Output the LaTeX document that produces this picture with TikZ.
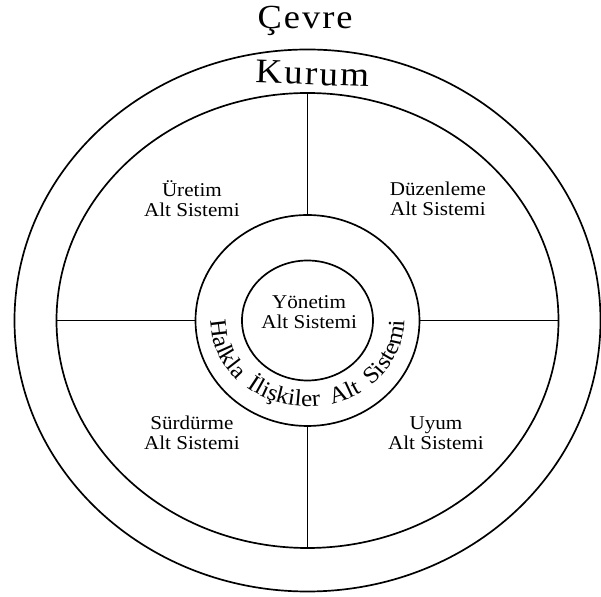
\documentclass[tikz,border=0pt]{standalone}
\usepackage{fontspec}
\setmainfont{Liberation Serif}[FakeStretch=1.08]
\newfontfamily\titlefont{Liberation Serif}[FakeStretch=1.08,LetterSpace=6]
\usetikzlibrary{shapes.geometric,decorations.text}
\newcommand\subfont{\fontsize{13.9}{14.2}\selectfont}
\newcommand\ringfont{\fontsize{16.6}{18}\selectfont}
\tikzset{
	ring/.style={draw, ellipse, line width=1.2pt, inner sep=0pt, outer sep=0pt},
	subsys/.style={align=center, font=\subfont},
	title/.style={anchor=base, font=\titlefont\fontsize{24}{26}\selectfont},
}
\begin{document}
\begin{tikzpicture}
	\useasboundingbox (-7.6875,-6.9125) rectangle (7.3375,8.0125);
	\node[ring, minimum width=14.65cm, minimum height=13.55cm] (cevre) at (0,0) {};
	\node[ring, minimum width=12.55cm, minimum height=11.375cm] (kurum) at (0,0) {};
	\node[ring, minimum width=5.6cm, minimum height=5.275cm] (halkla) at (0,0) {};
	\node[ring, minimum width=3.275cm, minimum height=3cm] (yonetim) at (0,0) {};
	\draw[line width=1.2pt] (kurum.north) -- (halkla.north);
	\draw[line width=1.2pt] (halkla.south) -- (kurum.south);
	\draw[line width=1.2pt] (kurum.west) -- (halkla.west);
	\draw[line width=1.2pt] (halkla.east) -- (kurum.east);
	\node[title] (cevrelbl) at (-0.06,7.29) {Çevre};
	\node[title, rotate=-2, font=\titlefont\fontsize{24.5}{26}\selectfont] (kurumlbl) at (0.11,5.89) {Kurum};
	\node[subsys] (uretim) at (-2.89,3.04) {Üretim\\Alt Sistemi};
	\node[subsys] (duzenleme) at (3.26,3.04) {Düzenleme\\Alt Sistemi};
	\node[subsys] (surdurme) at (-2.89,-2.81) {Sürdürme\\Alt Sistemi};
	\node[subsys] (uyum) at (3.21,-2.81) {Uyum\\Alt Sistemi};
	\node[subsys] (yonetimlbl) at (0.04,0.2) {Yönetim\\Alt Sistemi};
	\path[decorate, decoration={text along path, text align={fit to path stretching spaces},
		text={|\ringfont|Halkla İlişkiler Alt Sistemi}}]
		(halkla.center) ++(-2.42,0) arc[start angle=180, end angle=360, x radius=2.42, y radius=2.15];
\end{tikzpicture}
\end{document}
